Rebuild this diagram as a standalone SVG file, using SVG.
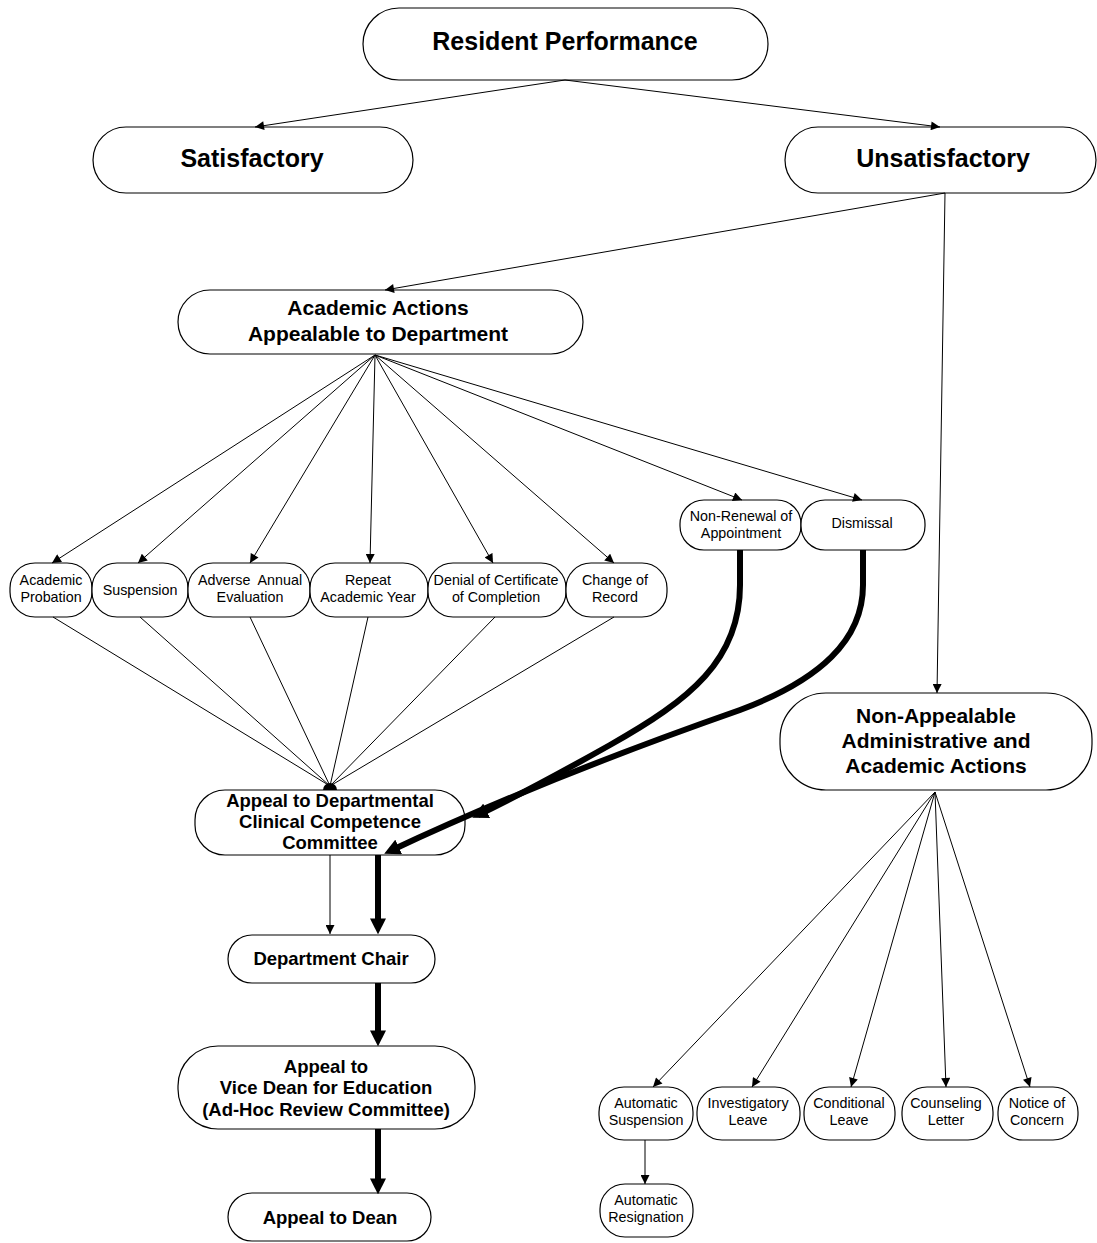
<svg xmlns="http://www.w3.org/2000/svg" width="1097" height="1243" viewBox="0 0 1097 1243">
<style>
.n{fill:#fff;stroke:#000;stroke-width:1.2}
.tb{font-family:"Liberation Sans",Arial,sans-serif;font-weight:bold;text-anchor:middle;fill:#000}
.big{font-size:25px}
.mid{font-size:21px}
.sm{font-size:18.5px}
.tr{font-family:"Liberation Sans",Arial,sans-serif;font-size:14.3px;text-anchor:middle;fill:#000}
.c{fill:none;stroke:#000;stroke-width:1}
.ca{fill:none;stroke:#000;stroke-width:1;marker-end:url(#ah)}
.k{fill:none;stroke:#000;stroke-width:6;marker-end:url(#ak)}
</style>
<defs>
<marker id="ah" viewBox="0 0 10 10" refX="10" refY="5" markerWidth="10" markerHeight="9" markerUnits="userSpaceOnUse" orient="auto"><path d="M0,0 L10,5 L0,10 z" fill="#000"/></marker>
<marker id="ak" viewBox="0 0 10 10" refX="6" refY="5" markerWidth="16" markerHeight="16" markerUnits="userSpaceOnUse" orient="auto"><path d="M0,0 L10,5 L0,10 z" fill="#000"/></marker>
</defs>
<rect width="1097" height="1243" fill="#fff"/>
<g id="resident-performance"><rect class="n" x="363" y="8" width="405" height="72" rx="36"/><text class="tb big" x="565" y="50">Resident Performance</text></g>
<g id="satisfactory"><rect class="n" x="93" y="127" width="320" height="66" rx="33"/><text class="tb big" x="252" y="167">Satisfactory</text></g>
<g id="unsatisfactory"><rect class="n" x="785" y="127" width="311" height="66" rx="33"/><text class="tb big" x="943" y="167">Unsatisfactory</text></g>
<g id="academic-actions"><rect class="n" x="178" y="290" width="405" height="64" rx="32"/><text class="tb mid" x="378" y="315">Academic Actions</text><text class="tb mid" x="378" y="341">Appealable to Department</text></g>
<g id="non-appealable"><rect class="n" x="780" y="693" width="312" height="97" rx="46"/><text class="tb mid" x="936" y="723">Non-Appealable</text><text class="tb mid" x="936" y="748">Administrative and</text><text class="tb mid" x="936" y="773">Academic Actions</text></g>
<g id="academic-probation"><rect class="n" x="10" y="563" width="82" height="54" rx="25"/><text class="tr" x="51" y="585">Academic</text><text class="tr" x="51" y="602">Probation</text></g>
<g id="suspension"><rect class="n" x="92" y="563" width="96" height="54" rx="25"/><text class="tr" x="140" y="595">Suspension</text></g>
<g id="adverse-annual-evaluation"><rect class="n" x="188" y="563" width="122" height="54" rx="25"/><text class="tr" x="250" y="585" xml:space="preserve">Adverse  Annual</text><text class="tr" x="250" y="602">Evaluation</text></g>
<g id="repeat-academic-year"><rect class="n" x="310" y="563" width="118" height="54" rx="25"/><text class="tr" x="368" y="585">Repeat</text><text class="tr" x="368" y="602">Academic Year</text></g>
<g id="denial-of-certificate"><rect class="n" x="428" y="563" width="138" height="54" rx="25"/><text class="tr" x="496" y="585">Denial of Certificate</text><text class="tr" x="496" y="602">of Completion</text></g>
<g id="change-of-record"><rect class="n" x="566" y="563" width="101" height="54" rx="25"/><text class="tr" x="615" y="585">Change of</text><text class="tr" x="615" y="602">Record</text></g>
<g id="non-renewal"><rect class="n" x="680" y="500" width="121" height="50" rx="24"/><text class="tr" x="741" y="521">Non-Renewal of</text><text class="tr" x="741" y="538">Appointment</text></g>
<g id="dismissal"><rect class="n" x="801" y="500" width="124" height="50" rx="24"/><text class="tr" x="862" y="528">Dismissal</text></g>
<g id="appeal-dept-ccc"><rect class="n" x="195" y="790" width="270" height="65" rx="30"/><text class="tb sm" x="330" y="807">Appeal to Departmental</text><text class="tb sm" x="330" y="828">Clinical Competence</text><text class="tb sm" x="330" y="849">Committee</text></g>
<g id="department-chair"><rect class="n" x="228" y="935" width="207" height="48" rx="24"/><text class="tb sm" x="331" y="965">Department Chair</text></g>
<g id="appeal-vice-dean"><rect class="n" x="178" y="1046" width="297" height="83" rx="40"/><text class="tb sm" x="326" y="1073">Appeal to</text><text class="tb sm" x="326" y="1094">Vice Dean for Education</text><text class="tb sm" x="326" y="1116">(Ad-Hoc Review Committee)</text></g>
<g id="appeal-to-dean"><rect class="n" x="228" y="1193" width="203" height="48" rx="24"/><text class="tb sm" x="330" y="1224">Appeal to Dean</text></g>
<g id="automatic-suspension"><rect class="n" x="599" y="1087" width="94" height="53" rx="25"/><text class="tr" x="646" y="1108">Automatic</text><text class="tr" x="646" y="1125">Suspension</text></g>
<g id="investigatory-leave"><rect class="n" x="697" y="1087" width="103" height="53" rx="25"/><text class="tr" x="748" y="1108">Investigatory</text><text class="tr" x="748" y="1125">Leave</text></g>
<g id="conditional-leave"><rect class="n" x="804" y="1087" width="91" height="53" rx="25"/><text class="tr" x="849" y="1108">Conditional</text><text class="tr" x="849" y="1125">Leave</text></g>
<g id="counseling-letter"><rect class="n" x="902" y="1087" width="91" height="53" rx="25"/><text class="tr" x="946" y="1108">Counseling</text><text class="tr" x="946" y="1125">Letter</text></g>
<g id="notice-of-concern"><rect class="n" x="998" y="1087" width="80" height="53" rx="25"/><text class="tr" x="1037" y="1108">Notice of</text><text class="tr" x="1037" y="1125">Concern</text></g>
<g id="automatic-resignation"><rect class="n" x="600" y="1184" width="93" height="53" rx="25"/><text class="tr" x="646" y="1205">Automatic</text><text class="tr" x="646" y="1222">Resignation</text></g>
<g id="connectors">
<line class="ca" x1="565" y1="80" x2="255" y2="127"/>
<line class="ca" x1="565" y1="80" x2="940" y2="127"/>
<line class="ca" x1="945" y1="193" x2="385" y2="290"/>
<line class="ca" x1="945" y1="193" x2="937" y2="693"/>
<line class="ca" x1="375" y1="355" x2="52" y2="563"/>
<line class="ca" x1="375" y1="355" x2="138" y2="563"/>
<line class="ca" x1="375" y1="355" x2="250" y2="563"/>
<line class="ca" x1="375" y1="355" x2="370" y2="563"/>
<line class="ca" x1="375" y1="355" x2="493" y2="563"/>
<line class="ca" x1="375" y1="355" x2="614" y2="563"/>
<line class="ca" x1="375" y1="355" x2="742" y2="500"/>
<line class="ca" x1="375" y1="355" x2="862" y2="500"/>
<line class="c" x1="53" y1="617" x2="330" y2="786"/>
<line class="c" x1="140" y1="617" x2="330" y2="786"/>
<line class="c" x1="250" y1="617" x2="330" y2="786"/>
<line class="c" x1="368" y1="617" x2="330" y2="786"/>
<line class="c" x1="495" y1="617" x2="330" y2="786"/>
<line class="c" x1="614" y1="617" x2="330" y2="786"/>
<path d="M323,790 A7,7 0 0 1 337,790 Z" fill="#000"/>
<path class="k" d="M740,550 L740,585 C740,660 690,700 610,745 Q530,790 478,815"/>
<path class="k" d="M863,550 L863,585 C863,640 820,680 740,710 C640,745 520,790 390,851"/>
<line class="ca" x1="330" y1="855" x2="330" y2="934"/>
<line class="k" x1="378" y1="855" x2="378" y2="928"/>
<line class="k" x1="378" y1="983" x2="378" y2="1040"/>
<line class="k" x1="378" y1="1129" x2="378" y2="1188"/>
<line class="ca" x1="935" y1="792" x2="653" y2="1087"/>
<line class="ca" x1="935" y1="792" x2="752" y2="1087"/>
<line class="ca" x1="935" y1="792" x2="851" y2="1087"/>
<line class="ca" x1="935" y1="792" x2="946" y2="1087"/>
<line class="ca" x1="935" y1="792" x2="1030" y2="1087"/>
<line class="ca" x1="645" y1="1140" x2="645" y2="1184"/>
</g>
</svg>
